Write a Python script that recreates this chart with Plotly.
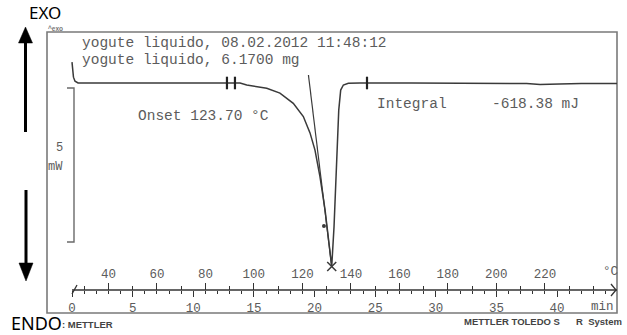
import plotly.graph_objects as go

W, H = 627, 335

# ---------------- data ----------------
time_min = [0.0, 0.04, 0.12, 0.25, 0.5, 2.0, 5.0, 8.0, 11.0, 13.86, 14.41, 15.18, 16.06,
            17.15, 18.25, 19.08, 19.63, 20.04, 20.45, 20.87, 21.22, 21.42, 21.61, 21.83,
            22.0, 22.16, 22.38, 22.79, 23.75, 28.0, 33.0, 37.5, 38.6, 39.4, 40.2, 42.0, 44.95]
heat_flow_mw = [0.68, 0.42, 0.19, 0.06, 0.0, 0.0, 0.0, 0.0, 0.0, 0.0, -0.065, -0.11, -0.17,
                -0.33, -0.66, -1.09, -1.62, -2.18, -3.04, -4.12, -5.20, -5.96, -4.67, -2.50,
                -0.88, -0.23, -0.065, -0.01, 0.0, 0.0, -0.01, -0.02, -0.05, -0.05, -0.03, -0.02, -0.02]

temp_start_c = 25.0          # °C at t = 0
heating_rate = 5.0           # °C / min
onset_c = 123.70
integral_mj = -618.38
peak_t = [21.42]
peak_mw = [-5.96]
inflection_t = [20.78]
inflection_mw = [-4.64]
tangent_t = [19.50, 21.42]
tangent_mw = [0.26, -5.96]
limit_t = [12.78, 13.44, 24.33]
limit_mw = [0.0, 0.0, 0.0]
scale_mw = 5

temp_ticks = [40, 60, 80, 100, 120, 140, 160, 180, 200, 220]
temp_minor = [30, 50, 70, 90, 110, 130, 150, 170, 190, 210, 230, 240]
time_ticks = [0, 5, 10, 15, 20, 25, 30, 35, 40]
time_minor = list(range(0, 45))
header_lines = ["yogute liquido, 08.02.2012 11:48:12", "yogute liquido, 6.1700 mg"]

# ---------------- layout geometry (pixels) ----------------
X0_PX, PX_PER_MIN = 72.0, 12.125
Y0_PX, PX_PER_MW = 83.0, 30.8
AXIS_Y_PX = 290.0
T_END = (617 - X0_PX) / PX_PER_MIN

xr = [(0 - X0_PX) / PX_PER_MIN, (W - X0_PX) / PX_PER_MIN]
x2r = [temp_start_c + heating_rate * v for v in xr]
yr = [(Y0_PX - H) / PX_PER_MW, Y0_PX / PX_PER_MW]


def px(x):
    return x / W


def py(y):
    return 1 - y / H


CURVE = "#3a3a3a"
GRAY = "#5c5c5c"
MONO = "Liberation Mono"

fig = go.Figure()
fig.add_trace(go.Scatter(x=time_min, y=heat_flow_mw, mode="lines",
                         line=dict(color=CURVE, width=1.5), hoverinfo="skip"))
fig.add_trace(go.Scatter(x=tangent_t, y=tangent_mw, mode="lines",
                         line=dict(color=CURVE, width=1.2), hoverinfo="skip"))
fig.add_trace(go.Scatter(x=peak_t, y=peak_mw, mode="markers",
                         marker=dict(symbol="x-thin", size=9, line=dict(color=CURVE, width=1.5)),
                         hoverinfo="skip"))
fig.add_trace(go.Scatter(x=inflection_t, y=inflection_mw, mode="markers",
                         marker=dict(symbol="circle", size=4, color=CURVE), hoverinfo="skip"))
fig.add_trace(go.Scatter(x=limit_t, y=limit_mw, mode="markers",
                         marker=dict(symbol="line-ns", size=9, line=dict(color="#222", width=2.2)),
                         hoverinfo="skip"))

fig.update_layout(
    width=W, height=H, margin=dict(l=0, r=0, t=0, b=0),
    paper_bgcolor="white", plot_bgcolor="white", showlegend=False,
    xaxis=dict(range=xr, domain=[0, 1], anchor="free", position=py(AXIS_Y_PX), side="bottom",
               showgrid=False, zeroline=False, showline=False,
               tickmode="array", tickvals=time_ticks, ticks="outside", ticklen=6,
               tickwidth=1.3, tickcolor="#333",
               minor=dict(tickmode="array", tickvals=time_minor, ticks="outside", ticklen=3,
                          tickwidth=1.1, tickcolor="#333", showgrid=False),
               tickfont=dict(family=MONO, size=12.5, color=GRAY), automargin=False),
    xaxis2=dict(range=x2r, domain=[0, 1], overlaying="x", anchor="free", position=py(AXIS_Y_PX),
                side="top", showgrid=False, zeroline=False, showline=False,
                tickmode="array", tickvals=temp_ticks, ticks="outside", ticklen=7,
                tickwidth=1.3, tickcolor="#333",
                minor=dict(tickmode="array", tickvals=temp_minor, ticks="outside", ticklen=4,
                           tickwidth=1.1, tickcolor="#333", showgrid=False),
                tickfont=dict(family=MONO, size=12.5, color=GRAY), automargin=False),
    yaxis=dict(range=yr, domain=[0, 1], visible=False, fixedrange=True),
)
# invisible trace so the temperature axis is drawn
fig.add_trace(go.Scatter(x=[temp_start_c], y=[0], xaxis="x2", mode="markers",
                         marker=dict(opacity=0), hoverinfo="skip"))

shapes = []
# frame
shapes.append(dict(type="rect", xref="paper", yref="paper", x0=px(47), x1=px(617),
                   y0=py(313), y1=py(32), line=dict(color="#7a7a7a", width=1.6), layer="below"))
# axis line
shapes.append(dict(type="line", xref="x", yref="paper", x0=0, x1=T_END,
                   y0=py(AXIS_Y_PX), y1=py(AXIS_Y_PX), line=dict(color="#333", width=1.4)))
# start curl and end arrow
shapes.append(dict(type="path", xref="paper", yref="paper",
                   path=f"M {px(72)} {py(294)} L {px(77)} {py(285)}",
                   line=dict(color="#333", width=1.3)))
shapes.append(dict(type="path", xref="paper", yref="paper",
                   path=f"M {px(611)} {py(284)} L {px(616)} {py(290)} L {px(611)} {py(296)}",
                   line=dict(color="#333", width=1.3)))
# 5 mW scale bar
bar_top = -0.16
bar_bot = bar_top - scale_mw
shapes.append(dict(type="path", xref="paper", yref="y",
                   path=f"M {px(67)} {bar_top} L {px(74)} {bar_top} L {px(74)} {bar_bot} L {px(67)} {bar_bot}",
                   line=dict(color="#6a6a6a", width=1.4)))
# EXO / ENDO arrows
shapes.append(dict(type="line", xref="paper", yref="paper", x0=px(25.5), x1=px(25.5),
                   y0=py(132), y1=py(40), line=dict(color="black", width=3)))
shapes.append(dict(type="path", xref="paper", yref="paper", fillcolor="black",
                   path=f"M {px(25.5)} {py(27)} L {px(18.5)} {py(43)} L {px(32.5)} {py(43)} Z",
                   line=dict(color="black", width=0.5)))
shapes.append(dict(type="line", xref="paper", yref="paper", x0=px(26), x1=px(26),
                   y0=py(190), y1=py(266), line=dict(color="black", width=3)))
shapes.append(dict(type="path", xref="paper", yref="paper", fillcolor="black",
                   path=f"M {px(26)} {py(281)} L {px(19)} {py(263)} L {px(33)} {py(263)} Z",
                   line=dict(color="black", width=0.5)))
fig.update_layout(shapes=shapes)


def ann(text, x, y, size, color=GRAY, family=MONO, xanchor="left"):
    fig.add_annotation(text=text, x=px(x), y=py(y), xref="paper", yref="paper",
                       xanchor=xanchor, yanchor="middle", showarrow=False,
                       font=dict(family=family, size=size, color=color), borderpad=0)


ann(header_lines[0], 81, 43, 14.5)
ann(header_lines[1], 81, 60, 14.5)
ann(f"Onset {onset_c:.2f} °C", 137, 116, 14.5)
ann("Integral", 376, 104, 14.5)
ann(f"{integral_mj:.2f} mJ", 491, 104, 14.5)
ann(str(scale_mw), 59, 148, 12, xanchor="center")
ann("mW", 55, 167, 12, xanchor="center")
ann("°C", 610, 272, 12.5, xanchor="center")
ann("min", 602, 307, 12.5, xanchor="center")
ann("<b>^exo</b>", 55, 28.5, 6.5, color="#777", family="Liberation Sans", xanchor="center")
ann("EXO", 45, 13, 17, color="black", family="Noto Sans", xanchor="center")
ann("<b>: METTLER</b>", 61, 324, 9.5, color="#444", family="Liberation Sans")
ann("ENDO", 36, 323, 18, color="black", family="Noto Sans", xanchor="center")
ann("<b>METTLER TOLEDO S</b>", 463, 321, 9.5, color="#444", family="Liberation Sans")
ann("<b>R  System</b>", 575, 321, 9.5, color="#444", family="Liberation Sans")

fig.write_html("out.html")
